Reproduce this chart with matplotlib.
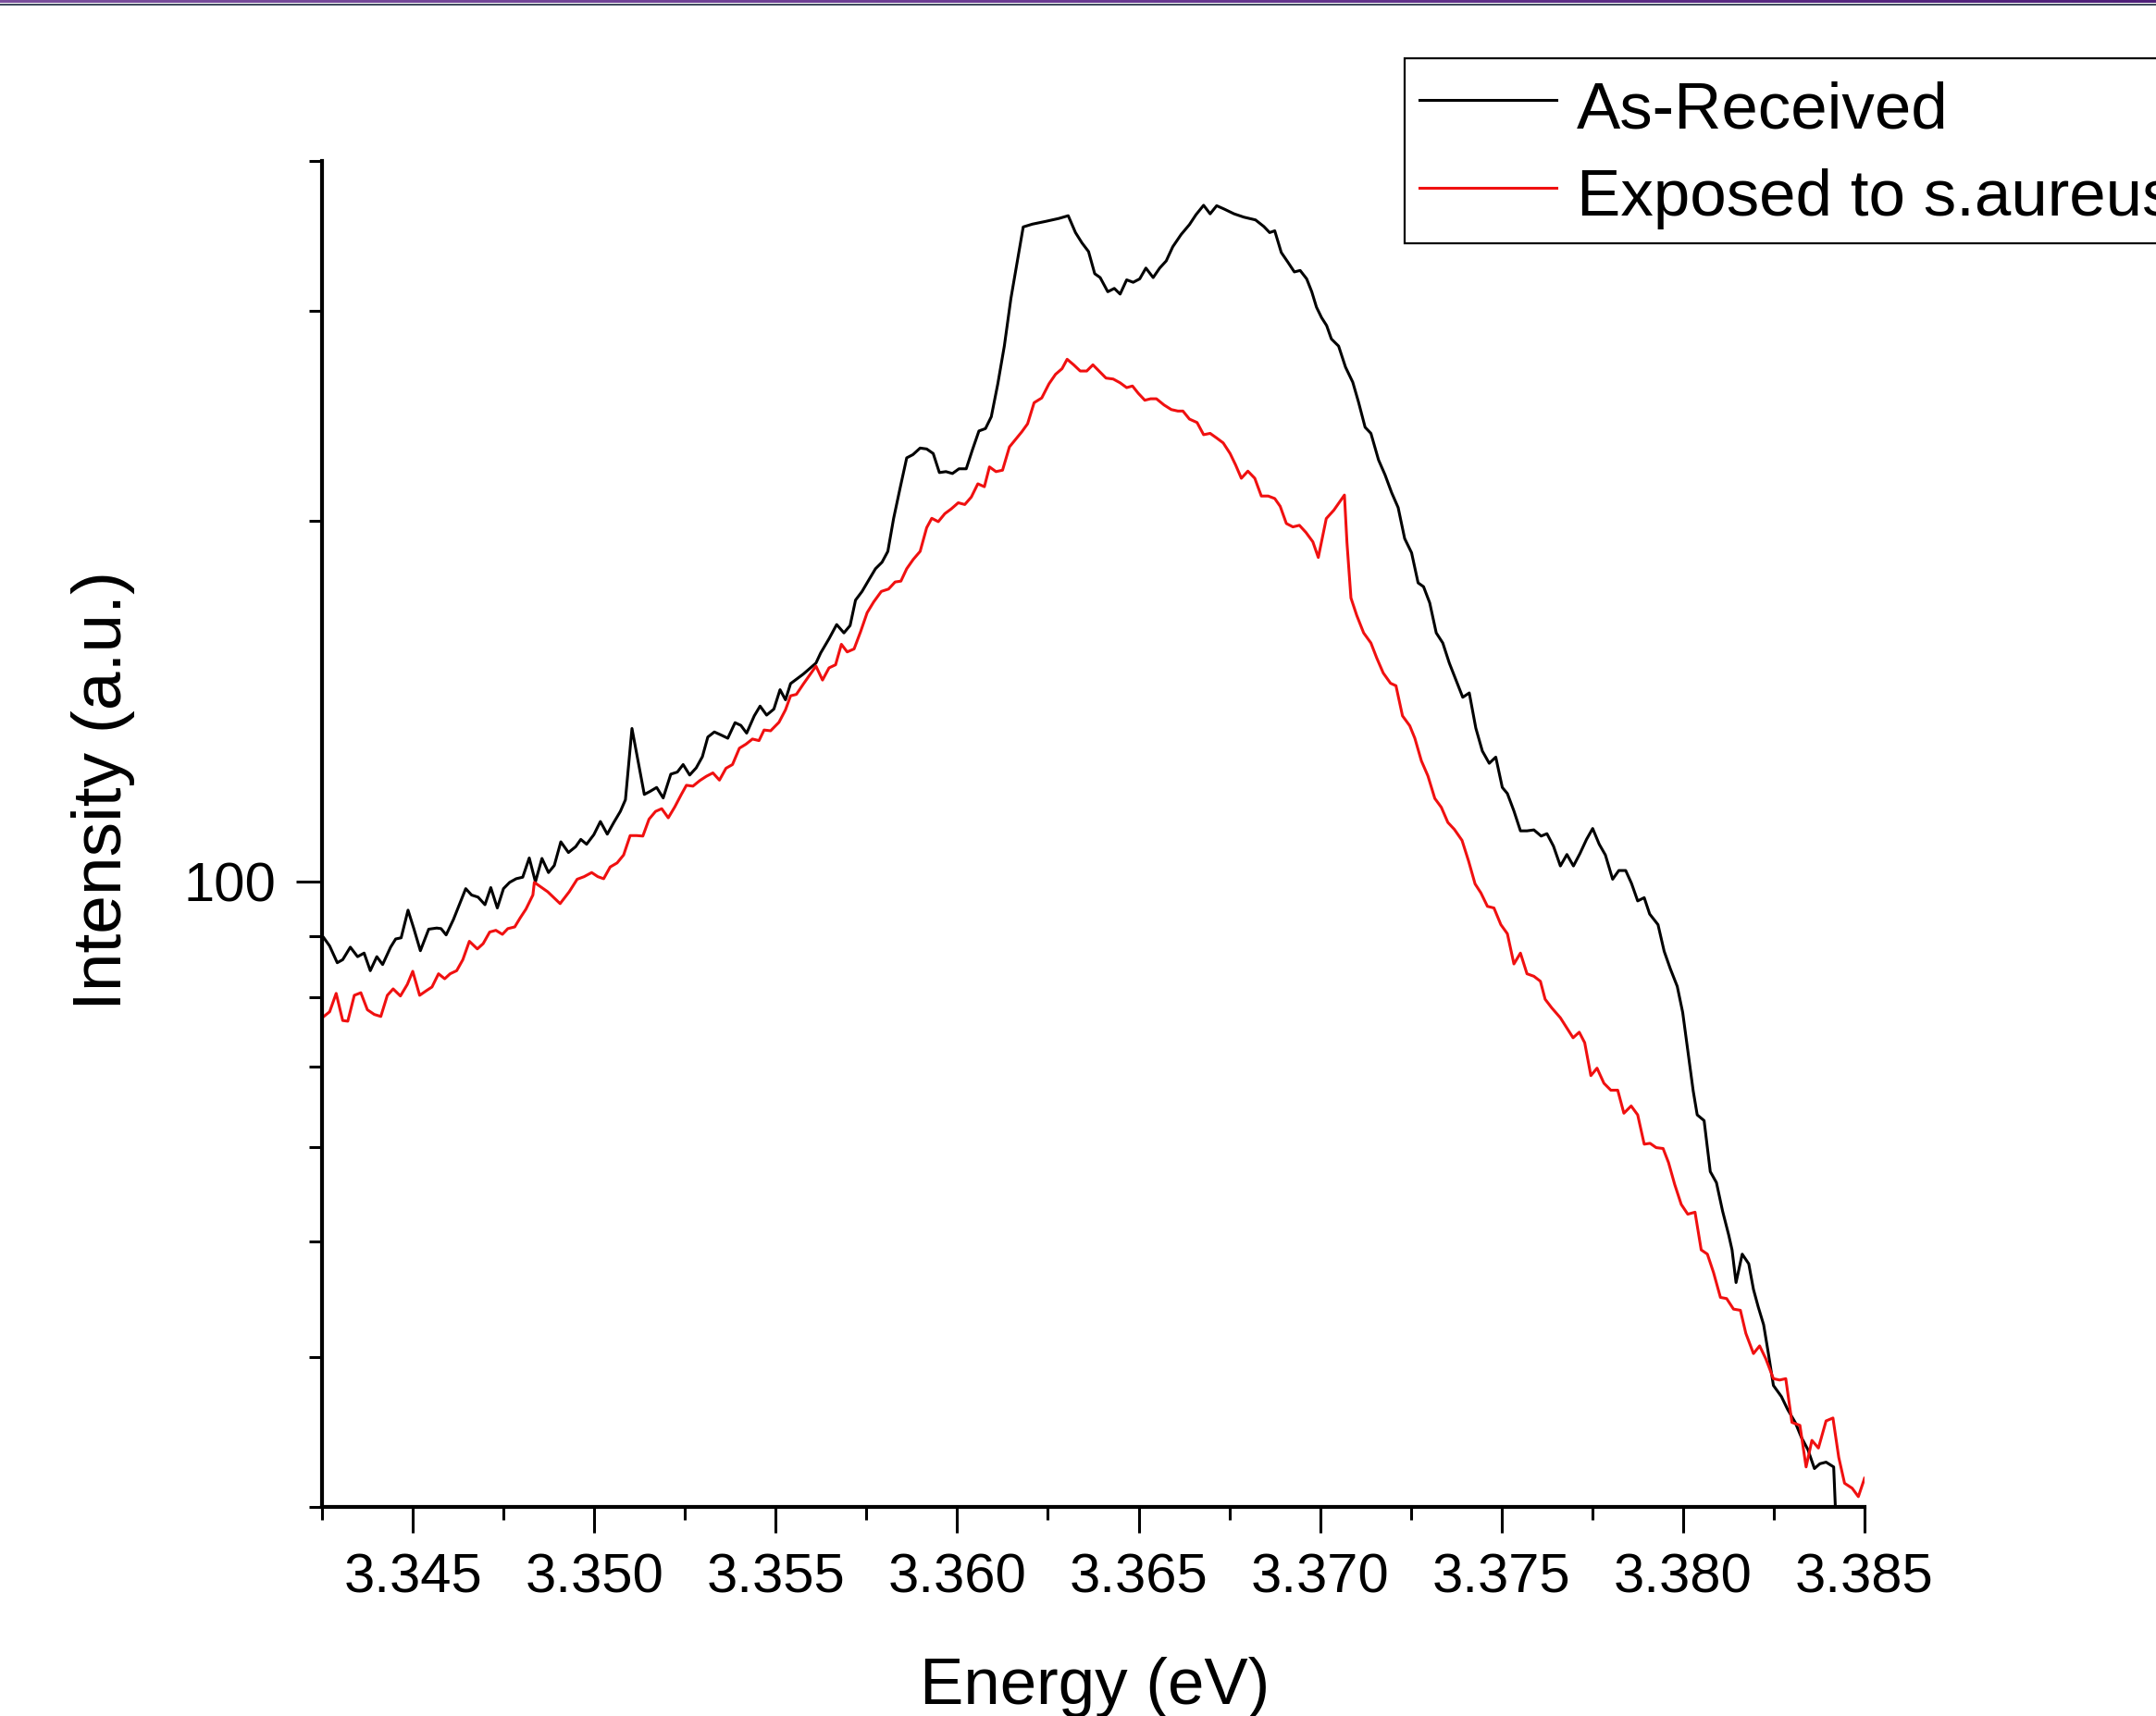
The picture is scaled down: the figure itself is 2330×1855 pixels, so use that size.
import numpy as np
import matplotlib
matplotlib.use("Agg")
import matplotlib.pyplot as plt
from matplotlib.colors import LinearSegmentedColormap
from matplotlib.ticker import FixedLocator, NullFormatter, FixedFormatter, LogLocator

# photon energy (eV) and intensity (a.u.)
black_e = [3.34255, 3.34271, 3.34292, 3.34307, 3.34328, 3.34348, 3.34366, 3.34383, 3.34401, 3.34417,
           3.34439, 3.34453, 3.34468, 3.34487, 3.34503, 3.34521, 3.34544, 3.34566, 3.34578, 3.34592,
           3.34612, 3.34646, 3.34662, 3.34680, 3.34699, 3.34715, 3.34733, 3.34750, 3.34767, 3.34785,
           3.34803, 3.34821, 3.34838, 3.34856, 3.34874, 3.34890, 3.34908, 3.34929, 3.34949, 3.34963,
           3.34979, 3.34999, 3.35017, 3.35036, 3.35054, 3.35072, 3.35086, 3.35104, 3.35138, 3.35154,
           3.35172, 3.35190, 3.35211, 3.35229, 3.35245, 3.35263, 3.35281, 3.35298, 3.35313, 3.35331,
           3.35350, 3.35368, 3.35388, 3.35404, 3.35420, 3.35441, 3.35457, 3.35475, 3.35495, 3.35512,
           3.35527, 3.35541, 3.35576, 3.35611, 3.35624, 3.35647, 3.35668, 3.35688, 3.35705, 3.35720,
           3.35738, 3.35757, 3.35775, 3.35793, 3.35809, 3.35825, 3.35843, 3.35861, 3.35878, 3.35898,
           3.35916, 3.35934, 3.35951, 3.35969, 3.35987, 3.36005, 3.36025, 3.36042, 3.36060, 3.36078,
           3.36094, 3.36112, 3.36130, 3.36148, 3.36166, 3.36182, 3.36207, 3.36244, 3.36280, 3.36306,
           3.36326, 3.36344, 3.36362, 3.36379, 3.36394, 3.36415, 3.36433, 3.36449, 3.36467, 3.36485,
           3.36503, 3.36520, 3.36540, 3.36558, 3.36576, 3.36594, 3.36617, 3.36640, 3.36658, 3.36679,
           3.36697, 3.36715, 3.36736, 3.36763, 3.36790, 3.36822, 3.36845, 3.36861, 3.36875, 3.36893,
           3.36911, 3.36929, 3.36945, 3.36963, 3.36977, 3.36990, 3.37004, 3.37018, 3.37031, 3.37051,
           3.37070, 3.37090, 3.37106, 3.37124, 3.37140, 3.37161, 3.37179, 3.37197, 3.37215, 3.37233,
           3.37252, 3.37270, 3.37285, 3.37302, 3.37320, 3.37338, 3.37356, 3.37375, 3.37393, 3.37411,
           3.37429, 3.37447, 3.37466, 3.37484, 3.37502, 3.37516, 3.37534, 3.37552, 3.37570, 3.37589,
           3.37609, 3.37625, 3.37643, 3.37662, 3.37680, 3.37698, 3.37716, 3.37734, 3.37751, 3.37769,
           3.37786, 3.37806, 3.37823, 3.37842, 3.37858, 3.37875, 3.37893, 3.37908, 3.37931, 3.37948,
           3.37965, 3.37984, 3.37999, 3.38007, 3.38018, 3.38028, 3.38039, 3.38058, 3.38075, 3.38092,
           3.38109, 3.38126, 3.38135, 3.38146, 3.38163, 3.38181, 3.38194, 3.38207, 3.38222, 3.38234,
           3.38249, 3.38271, 3.38288, 3.38309, 3.38326, 3.38344, 3.38362, 3.38377, 3.38394, 3.38415,
           3.38426]
black_i = [89.7, 88.3, 85.5, 86.0, 88.1, 86.5, 87.1, 84.2, 86.5, 85.2,
           88.1, 89.5, 89.7, 94.6, 91.3, 87.5, 91.2, 91.4, 91.3, 90.2,
           92.9, 98.6, 97.4, 97.0, 95.6, 98.8, 95.0, 98.6, 99.8, 100.5,
           100.8, 104.6, 99.9, 104.5, 101.7, 103.1, 107.9, 105.7, 106.9, 108.4,
           107.4, 109.4, 112.2, 109.5, 112.0, 114.4, 117.0, 134.2, 118.2, 118.9,
           119.8, 117.4, 122.9, 123.4, 125.2, 122.7, 124.4, 127.1, 132.0, 133.3,
           132.5, 131.7, 135.7, 135.0, 133.0, 137.5, 140.1, 137.7, 139.3, 144.6,
           141.8, 146.3, 149.0, 152.2, 155.2, 159.5, 163.9, 161.3, 163.6, 171.8,
           174.7, 178.7, 182.5, 184.8, 188.7, 201.1, 213.3, 225.9, 227.3, 230.2,
           229.8, 227.8, 219.6, 220.0, 219.2, 221.2, 221.2, 229.4, 237.9, 239.0,
           244.5, 260.5, 280.2, 306.9, 330.0, 352.3, 354.2, 356.1, 358.1, 360.0,
           348.5, 341.6, 336.0, 322.0, 319.6, 311.0, 313.0, 309.6, 318.2, 316.7,
           318.8, 325.5, 319.6, 325.5, 330.0, 339.1, 347.2, 353.9, 360.7, 367.3,
           361.3, 367.0, 364.6, 361.3, 359.0, 357.1, 352.6, 348.5, 349.7, 335.4,
           329.3, 323.1, 324.0, 318.8, 311.0, 301.9, 295.9, 291.4, 284.0, 280.1,
           269.0, 261.3, 251.4, 239.6, 236.8, 225.0, 218.6, 211.3, 205.3, 193.4,
           188.2, 177.6, 176.3, 170.9, 161.3, 158.2, 152.2, 147.1, 142.5, 143.7,
           134.3, 128.5, 125.5, 127.0, 119.8, 118.4, 114.5, 110.2, 110.2, 110.4,
           109.1, 109.6, 107.0, 103.0, 105.3, 103.0, 105.5, 108.4, 110.7, 107.4,
           105.2, 100.4, 102.1, 102.1, 99.6, 96.3, 96.9, 93.9, 92.0, 87.4,
           84.5, 81.7, 77.7, 74.5, 70.3, 66.8, 63.8, 63.1, 57.2, 56.0,
           53.0, 50.6, 49.2, 46.2, 48.8, 47.9, 45.6, 44.1, 42.6, 40.5,
           37.9, 37.1, 36.2, 35.3, 34.3, 33.5, 32.3, 32.6, 32.7, 32.4,
           27.0]

red_e = [3.34255, 3.34271, 3.34289, 3.34307, 3.34321, 3.34339, 3.34357, 3.34375, 3.34394, 3.34412,
         3.34430, 3.34446, 3.34466, 3.34485, 3.34500, 3.34519, 3.34537, 3.34553, 3.34571, 3.34588,
         3.34603, 3.34621, 3.34638, 3.34656, 3.34678, 3.34694, 3.34712, 3.34729, 3.34747, 3.34762,
         3.34781, 3.34796, 3.34812, 3.34831, 3.34835, 3.34872, 3.34906, 3.34931, 3.34953, 3.34972,
         3.34993, 3.35010, 3.35026, 3.35044, 3.35063, 3.35081, 3.35099, 3.35117, 3.35134, 3.35151,
         3.35169, 3.35186, 3.35204, 3.35222, 3.35240, 3.35254, 3.35272, 3.35291, 3.35309, 3.35327,
         3.35345, 3.35363, 3.35381, 3.35400, 3.35418, 3.35436, 3.35454, 3.35468, 3.35486, 3.35509,
         3.35527, 3.35541, 3.35557, 3.35577, 3.35595, 3.35611, 3.35629, 3.35647, 3.35665, 3.35681,
         3.35697, 3.35716, 3.35734, 3.35752, 3.35770, 3.35791, 3.35811, 3.35829, 3.35845, 3.35861,
         3.35879, 3.35898, 3.35916, 3.35930, 3.35948, 3.35966, 3.35984, 3.36003, 3.36021, 3.36039,
         3.36057, 3.36075, 3.36089, 3.36107, 3.36125, 3.36144, 3.36162, 3.36178, 3.36194, 3.36212,
         3.36233, 3.36253, 3.36271, 3.36289, 3.36303, 3.36321, 3.36339, 3.36357, 3.36374, 3.36391,
         3.36410, 3.36430, 3.36449, 3.36467, 3.36483, 3.36499, 3.36517, 3.36533, 3.36549, 3.36570,
         3.36590, 3.36608, 3.36622, 3.36640, 3.36661, 3.36679, 3.36697, 3.36715, 3.36733, 3.36752,
         3.36767, 3.36783, 3.36801, 3.36820, 3.36838, 3.36857, 3.36875, 3.36890, 3.36907, 3.36925,
         3.36943, 3.36961, 3.36980, 3.36995, 3.37017, 3.37038, 3.37067, 3.37074, 3.37085, 3.37101,
         3.37120, 3.37140, 3.37156, 3.37174, 3.37194, 3.37209, 3.37227, 3.37247, 3.37261, 3.37279,
         3.37297, 3.37316, 3.37334, 3.37352, 3.37370, 3.37391, 3.37409, 3.37427, 3.37443, 3.37461,
         3.37479, 3.37498, 3.37516, 3.37534, 3.37552, 3.37570, 3.37589, 3.37607, 3.37620, 3.37638,
         3.37662, 3.37697, 3.37714, 3.37729, 3.37746, 3.37763, 3.37782, 3.37801, 3.37820, 3.37837,
         3.37857, 3.37875, 3.37893, 3.37909, 3.37926, 3.37945, 3.37960, 3.37977, 3.37995, 3.38013,
         3.38033, 3.38050, 3.38067, 3.38084, 3.38103, 3.38120, 3.38139, 3.38158, 3.38173, 3.38194,
         3.38211, 3.38228, 3.38249, 3.38266, 3.38283, 3.38300, 3.38322, 3.38339, 3.38355, 3.38373,
         3.38394, 3.38413, 3.38429, 3.38445, 3.38466, 3.38483, 3.38500]
red_i = [77.1, 77.8, 80.6, 76.5, 76.4, 80.3, 80.7, 78.1, 77.4, 77.1,
         80.3, 81.3, 80.2, 82.0, 84.1, 80.3, 81.0, 81.6, 83.7, 82.9,
         83.7, 84.2, 86.0, 89.1, 87.8, 88.7, 90.7, 91.0, 90.3, 91.3,
         91.6, 93.2, 94.8, 97.4, 99.8, 98.0, 95.8, 98.0, 100.4, 100.9,
         101.7, 100.9, 100.5, 102.8, 103.6, 105.2, 109.2, 109.2, 109.1, 112.7,
         114.4, 115.0, 113.0, 115.4, 118.2, 120.3, 120.1, 121.4, 122.4, 123.2,
         121.5, 124.3, 125.2, 129.2, 130.2, 131.5, 131.1, 133.8, 133.6, 135.8,
         139.1, 142.9, 143.3, 146.3, 148.9, 151.3, 147.3, 150.8, 151.7, 157.8,
         155.5, 156.4, 161.7, 167.7, 171.2, 174.7, 175.5, 177.9, 178.2, 182.5,
         185.8, 188.7, 197.5, 201.1, 199.8, 202.9, 204.8, 207.2, 206.5, 209.5,
         214.9, 213.7, 222.0, 220.0, 220.6, 230.7, 234.3, 237.5, 241.2, 251.2,
         253.5, 260.5, 265.3, 268.2, 273.1, 270.2, 267.0, 267.0, 270.2, 267.0,
         263.4, 262.9, 261.0, 258.6, 259.4, 255.8, 252.4, 253.1, 253.1, 250.1,
         247.9, 247.2, 247.2, 243.4, 241.8, 236.2, 236.8, 234.7, 232.5, 227.8,
         222.9, 217.2, 220.2, 217.2, 209.9, 209.9, 208.9, 205.8, 199.1, 197.8,
         198.4, 195.7, 192.2, 186.5, 201.0, 204.3, 210.3, 191.9, 172.5, 166.8,
         161.3, 158.2, 153.7, 149.3, 146.4, 145.7, 137.5, 134.9, 131.7, 126.1,
         122.5, 117.3, 115.3, 112.0, 110.5, 108.2, 104.0, 99.5, 97.8, 95.3,
         95.0, 92.0, 90.4, 85.3, 87.1, 83.7, 83.3, 82.5, 79.7, 78.4,
         76.9, 74.0, 74.8, 73.3, 68.8, 69.8, 67.8, 66.9, 66.9, 64.0,
         64.9, 63.8, 60.3, 60.4, 59.9, 59.8, 58.2, 55.8, 53.7, 52.7,
         52.9, 49.2, 48.8, 47.1, 44.9, 44.8, 43.9, 43.8, 41.9, 40.3,
         40.9, 39.9, 38.4, 38.3, 38.4, 35.3, 35.1, 32.4, 34.1, 33.6,
         35.4, 35.6, 33.0, 31.4, 31.1, 30.6, 31.7]

series_labels = ["As-Received", "Exposed to s.aureus"]
x_major = [3.345, 3.350, 3.355, 3.360, 3.365, 3.370, 3.375, 3.380, 3.385]
x_minor = [3.3425, 3.3475, 3.3525, 3.3575, 3.3625, 3.3675, 3.3725, 3.3775, 3.3825]
y_major = [100]
y_label_text = ["100"]

plt.rcParams['font.family'] = ['Liberation Sans', 'DejaVu Sans']
narrow = ['Liberation Sans Narrow', 'Liberation Sans', 'DejaVu Sans']

W, H = 2330, 1855
fig = plt.figure(figsize=(W / 100, H / 100), dpi=100)
fig.patch.set_facecolor('white')

# thin purple banner along the top edge
band = fig.add_axes([0, 1 - 3.5 / H, 1, 3.5 / H])
grad = np.linspace(0, 1, 256)[None, :]
band.imshow(grad, aspect='auto', cmap=LinearSegmentedColormap.from_list('b', ['#7a4f9c', '#6a3a92', '#4e1f78']))
band.axis('off')
line_ax = fig.add_axes([0, 1 - 5.5 / H, 1, 2 / H])
line_ax.set_facecolor('#3f4c5e')
line_ax.set_xticks([]); line_ax.set_yticks([])
for s in line_ax.spines.values():
    s.set_visible(False)

ax = fig.add_axes([348 / W, 1 - 1629 / H, (2015 - 348) / W, (1629 - 174) / H])
l1, = ax.plot(black_e, black_i, color='black', lw=2.2, label=series_labels[0])
l2, = ax.plot(red_e, red_i, color='#f01010', lw=2.2, label=series_labels[1])

ax.set_yscale('log')
ax.set_xlim(3.3425, 3.385)
ax.set_ylim(30, 400)

for side in ['top', 'right']:
    ax.spines[side].set_visible(False)
for side in ['left', 'bottom']:
    ax.spines[side].set_linewidth(3.0)

ax.xaxis.set_major_locator(FixedLocator(x_major))
ax.xaxis.set_minor_locator(FixedLocator(x_minor))
ax.xaxis.set_major_formatter(FixedFormatter(["%.3f" % v for v in x_major]))
ax.yaxis.set_major_locator(FixedLocator(y_major))
ax.yaxis.set_major_formatter(FixedFormatter(y_label_text))
ax.yaxis.set_minor_locator(LogLocator(base=10, subs=np.arange(2, 10)))
ax.yaxis.set_minor_formatter(NullFormatter())

ax.tick_params(axis='both', which='major', direction='out', length=20, width=2.2, pad=16)
ax.tick_params(axis='both', which='minor', direction='out', length=10, width=2.2)
for lab in ax.get_xticklabels() + ax.get_yticklabels():
    lab.set_fontfamily(narrow)
    lab.set_fontsize(43)

ax.set_xlabel("Energy (eV)", fontsize=51)
ax.xaxis.label.set_va('baseline')
ax.xaxis.set_label_coords(0.5009, (1629 - 1842) / (1629 - 174))
ax.set_ylabel("Intensity (a.u.)", fontsize=54)
ax.yaxis.label.set_va('center')
ax.yaxis.set_label_coords((111 - 348) / (2015 - 348), (1629 - 854.5) / (1629 - 174))

leg = ax.legend(handles=[l1, l2], loc='upper left',
                bbox_to_anchor=(1518 / W, 1 - 63 / H), bbox_transform=fig.transFigure,
                fontsize=51, frameon=True, fancybox=False, framealpha=1, edgecolor='black',
                borderaxespad=0, borderpad=0.22, handlelength=2.1, handletextpad=0.3,
                handleheight=1.17, labelspacing=0.28)
leg.get_frame().set_linewidth(1.6)

fig.savefig('out.png', dpi=100)
